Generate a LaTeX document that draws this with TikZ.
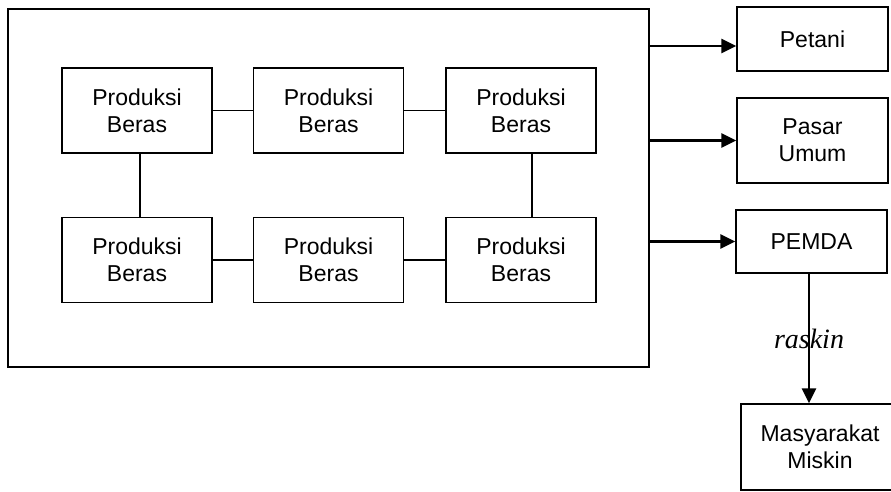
\documentclass[tikz,border=0pt]{standalone}
\usepackage{fontspec}
\setmainfont{Liberation Sans}
\newfontfamily\serifit{Liberation Serif}
\usetikzlibrary{arrows.meta}
\tikzset{
  box/.style={draw, line width=1.4pt, inner sep=0pt, align=center,
    font=\fontsize{23}{27}\selectfont},
  prod/.style={box, minimum width=150pt, minimum height=85pt},
  link/.style={line width=1.2pt},
  arr/.style={line width=2.8pt, -{Triangle[length=15pt,width=14pt]}},
}
\begin{document}
\begin{tikzpicture}[x=1pt,y=-1pt]
\useasboundingbox (0,0) rectangle (891,491);
% outer frame
\node[draw, line width=1.4pt, minimum width=641pt, minimum height=358pt, inner sep=0pt] (outer) at (328.5,188) {};
% production boxes
\node[prod] (b11) at (137,110.5) {Produksi\\Beras};
\node[prod] (b12) at (328.5,110.5) {Produksi\\Beras};
\node[prod] (b13) at (521,110.5) {Produksi\\Beras};
\node[prod] (b21) at (137,260) {Produksi\\Beras};
\node[prod] (b22) at (328.5,260) {Produksi\\Beras};
\node[prod] (b23) at (521,260) {Produksi\\Beras};
\draw[link] (b11) -- (b12);
\draw[link] (b12) -- (b13);
\draw[link] (b21) -- (b22);
\draw[link] (b22) -- (b23);
\coordinate (v1) at (140,0);
\coordinate (v3) at (532,0);
\draw[link] (b11.south -| v1) -- (b21.north -| v1);
\draw[link] (b13.south -| v3) -- (b23.north -| v3);
% right boxes
\node[box, minimum width=151pt, minimum height=64pt] (petani) at (812.5,39) {Petani};
\node[box, minimum width=151pt, minimum height=85pt] (pasar) at (812.5,140.5) {Pasar\\Umum};
\node[box, minimum width=151pt, minimum height=63pt] (pemda) at (811.5,241.5) {PEMDA};
\node[box, minimum width=158pt, minimum height=86pt] (miskin) at (820,447) {Masyarakat\\Miskin};
\coordinate (y1) at (0,46);
\draw[arr] (outer.east |- y1) -- (petani.west |- y1);
\draw[arr] (outer.east |- pasar) -- (pasar.west);
\draw[arr] (outer.east |- pemda) -- (pemda.west);
\coordinate (vx) at (809,0);
\draw[arr] (pemda.south -| vx) -- node[font=\serifit\itshape\fontsize{28}{32}\selectfont, inner sep=0pt] (lbl) {raskin} (miskin.north -| vx);
\end{tikzpicture}
\end{document}
